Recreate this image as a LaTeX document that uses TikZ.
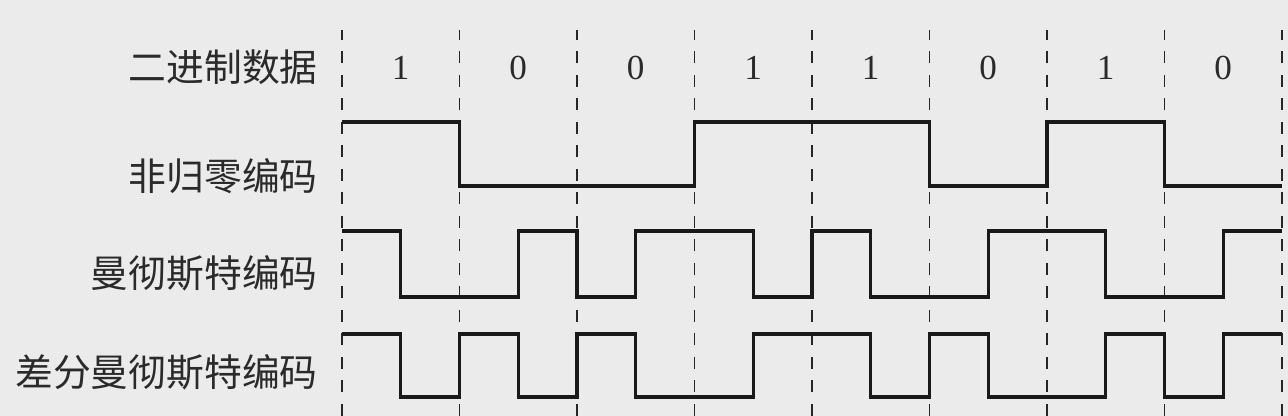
\documentclass[tikz,border=0pt]{standalone}
\usepackage{fontspec}
\setmainfont{Liberation Serif}
\newfontfamily\cjk{Noto Sans CJK SC}
\usepackage{xcolor}
\definecolor{bg_gray}{HTML}{EBEBEB}
\definecolor{txt_gray}{HTML}{2A2A2A}
\usetikzlibrary{positioning,calc}
\tikzset{LABEL/.style={anchor=east,inner sep=0pt,font=\cjk\fontsize{21.5pt}{22pt}\selectfont,text=txt_gray}}
\tikzset{BIT/.style={inner sep=0pt,font=\fontsize{20pt}{21pt}\selectfont,text=txt_gray}}
\tikzset{GRID/.style={line width=1.1pt,dash pattern=on 0.24cm off 0.23cm,black!85}}
\tikzset{WAVE/.style={line width=1.9pt,black!90,line join=miter}}

\begin{document}
\begin{tikzpicture}

\fill[bg_gray] (0,0) rectangle (25.76,8.32);
\useasboundingbox (0,0) rectangle (25.76,8.32);

% bit boundaries
\coordinate (c_b0) at (6.84,0);
\coordinate (c_b1) at (9.19,0);
\coordinate (c_b2) at (11.54,0);
\coordinate (c_b3) at (13.89,0);
\coordinate (c_b4) at (16.24,0);
\coordinate (c_b5) at (18.59,0);
\coordinate (c_b6) at (20.94,0);
\coordinate (c_b7) at (23.29,0);
\coordinate (c_b8) at (25.64,0);

\draw[GRID] (c_b0) -- ($(c_b0)+(0,7.72)$);
\draw[GRID] (c_b1) -- ($(c_b1)+(0,7.72)$);
\draw[GRID] (c_b2) -- ($(c_b2)+(0,7.72)$);
\draw[GRID] (c_b3) -- ($(c_b3)+(0,7.72)$);
\draw[GRID] (c_b4) -- ($(c_b4)+(0,7.72)$);
\draw[GRID] (c_b5) -- ($(c_b5)+(0,7.72)$);
\draw[GRID] (c_b6) -- ($(c_b6)+(0,7.72)$);
\draw[GRID] (c_b7) -- ($(c_b7)+(0,7.72)$);
\draw[GRID] (c_b8) -- ($(c_b8)+(0,7.72)$);

% row labels
\node[LABEL] (n_data) at (6.36,6.98) {二进制数据};
\node[LABEL] (n_nrz) at (6.36,4.80) {非归零编码};
\node[LABEL] (n_man) at (6.36,2.86) {曼彻斯特编码};
\node[LABEL] (n_diff) at (6.36,0.88) {差分曼彻斯特编码};

% data bits
\node[BIT] (n_bit1) at ($(c_b0)!0.5!(c_b1)+(0,6.96)$) {1};
\node[BIT] (n_bit2) at ($(c_b1)!0.5!(c_b2)+(0,6.96)$) {0};
\node[BIT] (n_bit3) at ($(c_b2)!0.5!(c_b3)+(0,6.96)$) {0};
\node[BIT] (n_bit4) at ($(c_b3)!0.5!(c_b4)+(0,6.96)$) {1};
\node[BIT] (n_bit5) at ($(c_b4)!0.5!(c_b5)+(0,6.96)$) {1};
\node[BIT] (n_bit6) at ($(c_b5)!0.5!(c_b6)+(0,6.96)$) {0};
\node[BIT] (n_bit7) at ($(c_b6)!0.5!(c_b7)+(0,6.96)$) {1};
\node[BIT] (n_bit8) at ($(c_b7)!0.5!(c_b8)+(0,6.96)$) {0};

% NRZ
\coordinate (c_nrz) at ($(c_b0)+(0,5.88)$);
\draw[WAVE] (c_nrz) -- ++(2.35,0) -- ++(0,-1.28) -- ++(4.70,0) -- ++(0,1.28)
  -- ++(4.70,0) -- ++(0,-1.28) -- ++(2.35,0) -- ++(0,1.28) -- ++(2.35,0)
  -- ++(0,-1.28) -- ++(2.35,0);

% Manchester
\coordinate (c_man) at ($(c_b0)+(0,3.70)$);
\draw[WAVE] (c_man) -- ++(1.175,0) -- ++(0,-1.32) -- ++(2.35,0) -- ++(0,1.32)
  -- ++(1.175,0) -- ++(0,-1.32) -- ++(1.175,0) -- ++(0,1.32) -- ++(2.35,0)
  -- ++(0,-1.32) -- ++(1.175,0) -- ++(0,1.32) -- ++(1.175,0) -- ++(0,-1.32)
  -- ++(2.35,0) -- ++(0,1.32) -- ++(2.35,0) -- ++(0,-1.32) -- ++(2.35,0)
  -- ++(0,1.32) -- ++(1.175,0);

% differential Manchester
\coordinate (c_diff) at ($(c_b0)+(0,1.64)$);
\draw[WAVE] (c_diff) -- ++(1.175,0) -- ++(0,-1.26) -- ++(1.175,0) -- ++(0,1.26)
  -- ++(1.175,0) -- ++(0,-1.26) -- ++(1.175,0) -- ++(0,1.26) -- ++(1.175,0)
  -- ++(0,-1.26) -- ++(2.35,0) -- ++(0,1.26) -- ++(2.35,0) -- ++(0,-1.26)
  -- ++(1.175,0) -- ++(0,1.26) -- ++(1.175,0) -- ++(0,-1.26) -- ++(2.35,0)
  -- ++(0,1.26) -- ++(1.175,0) -- ++(0,-1.26) -- ++(1.175,0) -- ++(0,1.26)
  -- ++(1.175,0);

\end{tikzpicture}
\end{document}
